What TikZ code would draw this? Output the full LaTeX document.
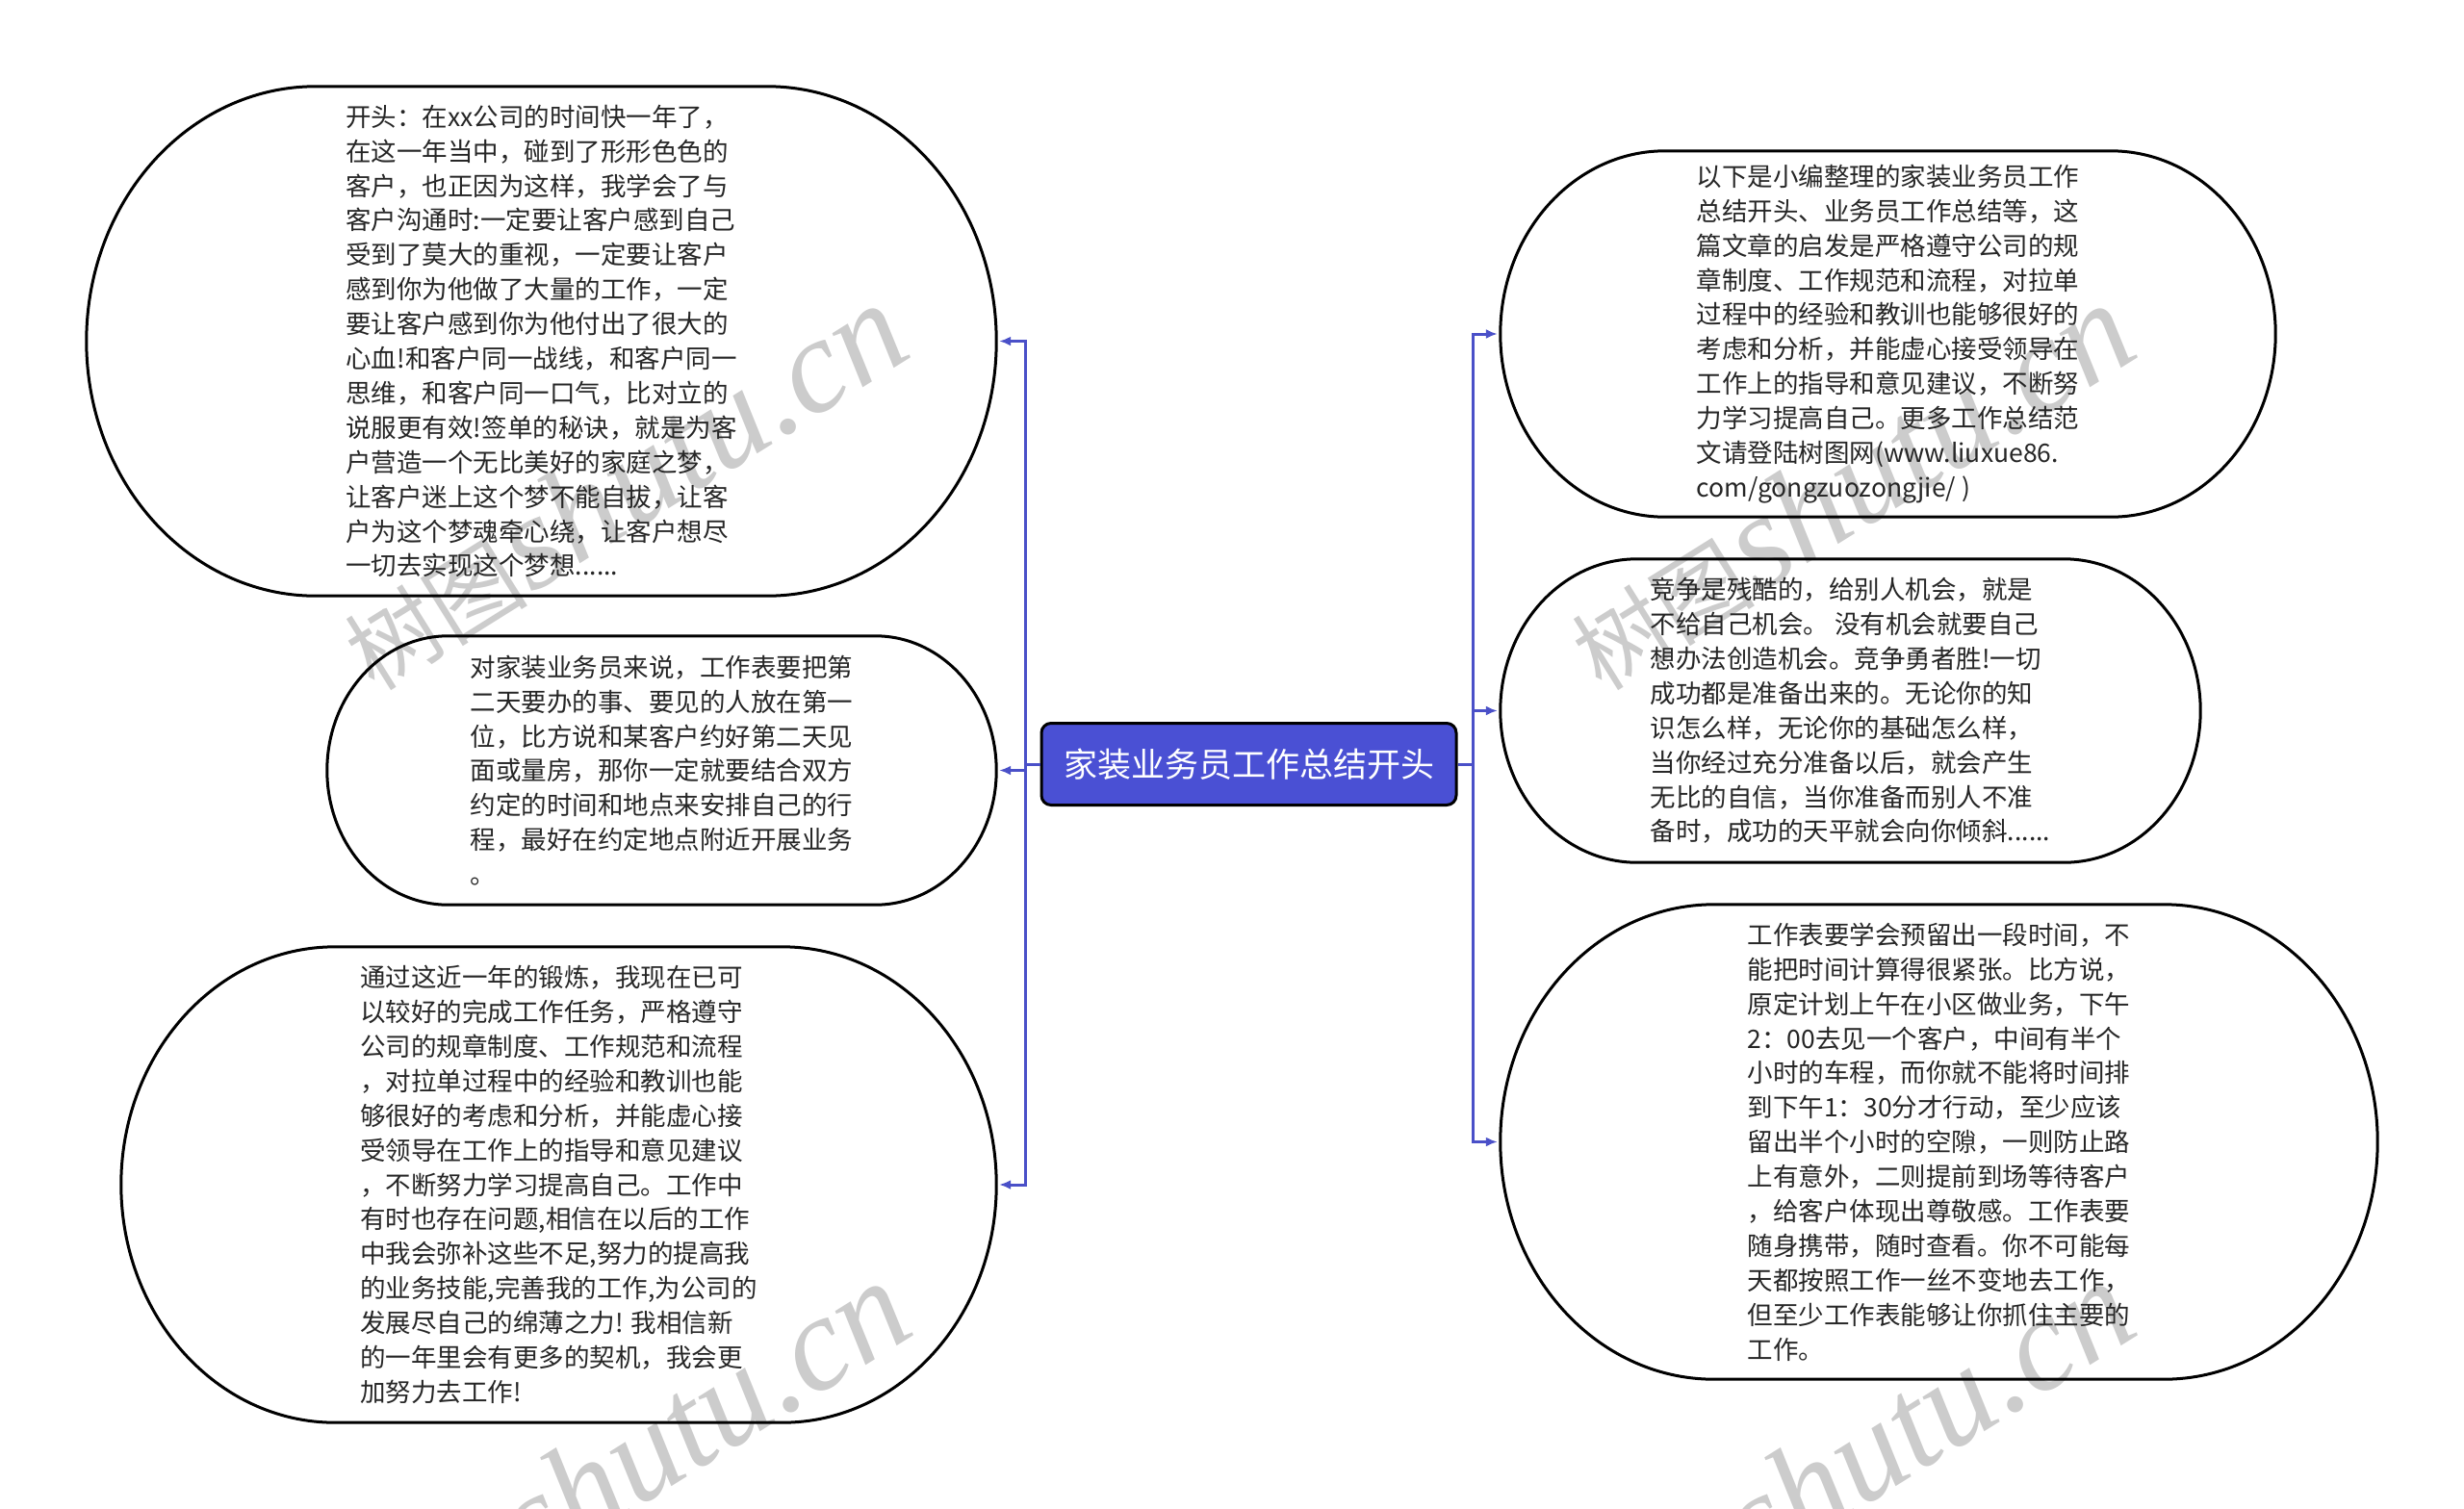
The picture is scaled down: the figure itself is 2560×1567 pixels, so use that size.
\documentclass[tikz,border=0pt]{standalone}
\usepackage{fontspec}
\setmainfont{Noto Sans CJK SC}
\newfontfamily\wmserif{Liberation Serif}
\usetikzlibrary{arrows.meta,calc}
\definecolor{titleblue}{HTML}{4A50D4}
\definecolor{connblue}{HTML}{4A50C8}
\newcommand\bubfont{\fontsize{26.5pt}{35.9pt}\selectfont}
\newcommand\stadium[1]{%
  \draw[bubline] let \p1=(#1.north west), \p2=(#1.south east),
    \n1={0.45*(\y1-\y2)}, \n2={0.5*(\y1-\y2)} in
    (\x1+\n1,\y1) -- (\x2-\n1,\y1)
    arc[start angle=90,end angle=-90,x radius=\n1,y radius=\n2]
    -- (\x1+\n1,\y2)
    arc[start angle=270,end angle=90,x radius=\n1,y radius=\n2] -- cycle;}
\begin{document}
\begin{tikzpicture}[x=1pt,y=1pt,
  bub/.style={inner sep=0pt, align=left, font=\bubfont, text=black!85},
  bubline/.style={draw=black, line width=3pt},
  titlebox/.style={fill=titleblue, draw=black, line width=3pt, rounded corners=10pt,
    minimum width=431pt, minimum height=85pt, inner sep=0pt, text=white,
    font=\fontsize{35pt}{40pt}\selectfont},
  conn/.style={draw=connblue, line width=3pt, -{Latex[length=12pt,width=10pt]}, shorten >=3pt},
  wm/.style={text=black!20, rotate=32, inner sep=0pt}]
\useasboundingbox (0,0) rectangle (2560,-1567);
\fill[white] (0,0) rectangle (2560,-1567);
% watermarks
\node[wm] (wm1) at (647,-506) {{\fontsize{95pt}{95pt}\selectfont 树图} {\wmserif\itshape\fontsize{140pt}{140pt}\selectfont shutu.cn}};
\node[wm] (wm2) at (650,-1522) {{\fontsize{95pt}{95pt}\selectfont 树图} {\wmserif\itshape\fontsize{140pt}{140pt}\selectfont shutu.cn}};
\node[wm] (wm3) at (1922,-506) {{\fontsize{95pt}{95pt}\selectfont 树图} {\wmserif\itshape\fontsize{140pt}{140pt}\selectfont shutu.cn}};
\node[wm] (wm4) at (1922,-1522) {{\fontsize{95pt}{95pt}\selectfont 树图} {\wmserif\itshape\fontsize{140pt}{140pt}\selectfont shutu.cn}};
% central
\node[titlebox] (c) at (1297.5,-794) {家装业务员工作总结开头};
% left bubbles
\node[bub, minimum width=945pt, minimum height=529pt] (l1) at (562.5,-354.5) {开头：在xx公司的时间快一年了，\\在这一年当中，碰到了形形色色的\\客户，也正因为这样，我学会了与\\客户沟通时:一定要让客户感到自己\\受到了莫大的重视，一定要让客户\\感到你为他做了大量的工作，一定\\要让客户感到你为他付出了很大的\\心血!和客户同一战线，和客户同一\\思维，和客户同一口气，比对立的\\说服更有效!签单的秘诀，就是为客\\户营造一个无比美好的家庭之梦，\\让客户迷上这个梦不能自拔，让客\\户为这个梦魂牵心绕，让客户想尽\\一切去实现这个梦想......};
\node[bub, minimum width=695pt, minimum height=279pt] (l2) at (687.5,-800.5) {对家装业务员来说，工作表要把第\\二天要办的事、要见的人放在第一\\位，比方说和某客户约好第二天见\\面或量房，那你一定就要结合双方\\约定的时间和地点来安排自己的行\\程，最好在约定地点附近开展业务\\。};
\node[bub, minimum width=909pt, minimum height=494pt] (l3) at (580.5,-1231) {通过这近一年的锻炼，我现在已可\\以较好的完成工作任务，严格遵守\\公司的规章制度、工作规范和流程\\，对拉单过程中的经验和教训也能\\够很好的考虑和分析，并能虚心接\\受领导在工作上的指导和意见建议\\，不断努力学习提高自己。工作中\\有时也存在问题,相信在以后的工作\\中我会弥补这些不足,努力的提高我\\的业务技能,完善我的工作,为公司的\\发展尽自己的绵薄之力! 我相信新\\的一年里会有更多的契机，我会更\\加努力去工作!};
% right bubbles
\node[bub, minimum width=805pt, minimum height=380pt] (r1) at (1961.5,-347) {以下是小编整理的家装业务员工作\\总结开头、业务员工作总结等，这\\篇文章的启发是严格遵守公司的规\\章制度、工作规范和流程，对拉单\\过程中的经验和教训也能够很好的\\考虑和分析，并能虚心接受领导在\\工作上的指导和意见建议，不断努\\力学习提高自己。更多工作总结范\\文请登陆树图网(www.liuxue86.\\com/gongzuozongjie/ )};
\node[bub, minimum width=727pt, minimum height=315pt] (r2) at (1922.5,-738.5) {竞争是残酷的，给别人机会，就是\\不给自己机会。 没有机会就要自己\\想办法创造机会。竞争勇者胜!一切\\成功都是准备出来的。无论你的知\\识怎么样，无论你的基础怎么样，\\当你经过充分准备以后，就会产生\\无比的自信，当你准备而别人不准\\备时，成功的天平就会向你倾斜......};
\node[bub, minimum width=911pt, minimum height=493pt] (r3) at (2014.5,-1186.5) {工作表要学会预留出一段时间，不\\能把时间计算得很紧张。比方说，\\原定计划上午在小区做业务，下午\\2：00去见一个客户，中间有半个\\小时的车程，而你就不能将时间排\\到下午1：30分才行动，至少应该\\留出半个小时的空隙，一则防止路\\上有意外，二则提前到场等待客户\\，给客户体现出尊敬感。工作表要\\随身携带，随时查看。你不可能每\\天都按照工作一丝不变地去工作，\\但至少工作表能够让你抓住主要的\\工作。};
\stadium{l1}\stadium{l2}\stadium{l3}\stadium{r1}\stadium{r2}\stadium{r3}
% connectors
\coordinate (lt) at (1065,-794);
\coordinate (rt) at (1530,-794);
\draw[draw=connblue, line width=3pt] (c.west) -- (lt);
\draw[draw=connblue, line width=3pt] (c.east) -- (rt);
\draw[conn] (lt) |- (l1.east);
\draw[conn] (lt) |- (l2.east);
\draw[conn] (lt) |- (l3.east);
\draw[conn] (rt) |- (r1.west);
\draw[conn] (rt) |- (r2.west);
\draw[conn] (rt) |- (r3.west);
\end{tikzpicture}
\end{document}
